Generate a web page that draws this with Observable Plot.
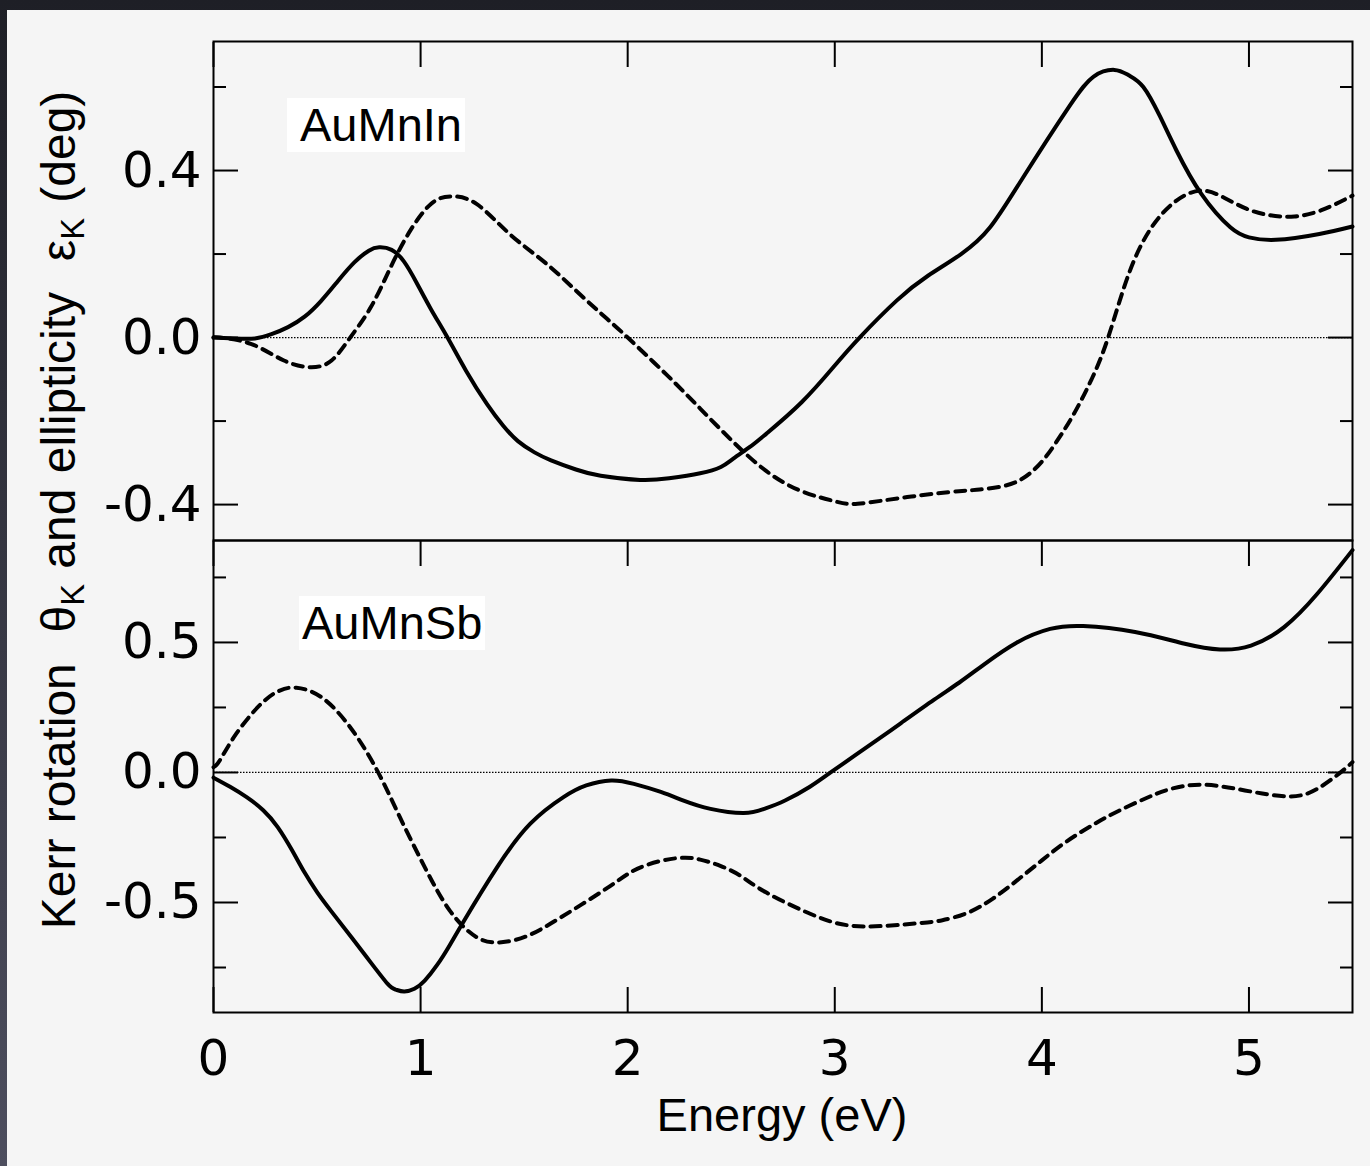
<!DOCTYPE html>
<html>
<head>
<meta charset="utf-8">
<script src="https://cdn.jsdelivr.net/npm/d3@7"></script>
<script src="https://cdn.jsdelivr.net/npm/@observablehq/plot@0.6"></script>
<style>
  html, body { margin: 0; padding: 0; }
  body { background: linear-gradient(#1e1f26, #4d4e5e); width: 1370px; height: 1166px; overflow: hidden; }
  #page { position: relative; width: 1370px; height: 1166px; }
  #bg { position: absolute; left: 7px; top: 10px; right: 0; bottom: 0; background: #f5f5f5; }
  .panel { position: absolute; left: 0; }
  .panel svg { display: block; }
  .tag { position: absolute; background: #ffffff; font: 47px "Liberation Sans", Arial, sans-serif; color: #000; height: 54px; line-height: 54px; white-space: nowrap; box-sizing: border-box; }
  .title { position: absolute; font: 47px "Liberation Sans", Arial, sans-serif; color: #000; white-space: nowrap; line-height: 47px; }
  .title sub { font-size: 0.68em; vertical-align: -0.28em; line-height: 0; }
</style>
</head>
<body>
<div id="page">
  <div id="bg"></div>
  <div class="panel" id="top" style="top:0px"></div>
  <div class="panel" id="bottom" style="top:530px"></div>
  <div class="tag" style="left:287px; top:98px; width:178px; padding-left:13px;">AuMnIn</div>
  <div class="tag" style="left:299px; top:596px; width:186px; padding-left:3px;">AuMnSb</div>
  <div class="title" id="xlabel" style="left:782px; top:1091px; transform:translateX(-50%);">Energy (eV)</div>
  <div class="title" id="ylabel" style="left:58px; top:510px; font-size:48px; word-spacing:2px; transform:translate(-50%,-50%) rotate(-90deg);">Kerr rotation&nbsp; θ<sub>K</sub> and ellipticity&nbsp; ε<sub>K</sub> (deg)</div>
</div>
<script>
// ---------- data ----------
// AuMnIn, Kerr rotation (solid)
const inRotE = [0.00,0.10,0.20,0.28,0.36,0.44,0.52,0.60,0.68,0.75,0.80,0.86,0.92,0.98,1.05,1.13,1.22,1.32,1.40,1.47,1.55,1.63,1.75,1.87,2.06,2.20,2.35,2.45,2.51,2.59,2.67,2.84,3.00,3.12,3.30,3.45,3.61,3.75,3.91,4.13,4.25,4.35,4.42,4.49,4.57,4.65,4.77,4.91,5.00,5.13,5.34,5.50];
const inRotV = [0.000,-0.002,-0.002,0.008,0.025,0.050,0.088,0.135,0.180,0.208,0.216,0.210,0.182,0.132,0.068,0.000,-0.080,-0.159,-0.212,-0.248,-0.275,-0.294,-0.316,-0.331,-0.341,-0.337,-0.325,-0.310,-0.290,-0.262,-0.230,-0.155,-0.067,0.000,0.089,0.148,0.200,0.264,0.384,0.552,0.625,0.641,0.628,0.600,0.530,0.448,0.344,0.264,0.240,0.234,0.248,0.266];
// AuMnIn, ellipticity (dashed)
const inEllE = [0.00,0.03,0.18,0.34,0.47,0.57,0.66,0.76,0.855,0.95,1.05,1.145,1.27,1.43,1.60,1.76,1.90,2.00,2.19,2.35,2.51,2.67,2.84,3.00,3.11,3.35,3.60,3.70,3.80,3.88,3.95,4.02,4.09,4.16,4.24,4.32,4.42,4.53,4.65,4.77,4.88,4.99,5.10,5.22,5.35,5.50];
const inEllV = [0.000,0.000,-0.015,-0.055,-0.071,-0.055,0.000,0.073,0.168,0.256,0.320,0.338,0.320,0.248,0.180,0.108,0.045,0.000,-0.090,-0.170,-0.250,-0.320,-0.368,-0.392,-0.398,-0.382,-0.368,-0.364,-0.357,-0.345,-0.322,-0.285,-0.235,-0.178,-0.100,0.000,0.153,0.264,0.328,0.352,0.335,0.308,0.293,0.290,0.305,0.340];
// AuMnSb, Kerr rotation (solid)
const sbRotE = [0.00,0.08,0.16,0.24,0.31,0.38,0.44,0.50,0.57,0.73,0.84,0.88,0.92,0.97,1.02,1.08,1.14,1.21,1.37,1.53,1.69,1.80,1.92,2.03,2.16,2.27,2.40,2.56,2.66,2.76,2.88,2.98,3.16,3.32,3.48,3.60,3.72,3.88,4.04,4.20,4.45,4.69,4.86,5.01,5.17,5.33,5.50];
const sbRotV = [-0.020,-0.055,-0.095,-0.145,-0.210,-0.300,-0.385,-0.460,-0.535,-0.700,-0.812,-0.835,-0.842,-0.832,-0.800,-0.740,-0.665,-0.570,-0.364,-0.197,-0.095,-0.050,-0.031,-0.044,-0.075,-0.108,-0.140,-0.156,-0.140,-0.108,-0.055,0.000,0.100,0.190,0.280,0.345,0.415,0.500,0.552,0.563,0.540,0.495,0.473,0.488,0.559,0.687,0.855];
// AuMnSb, ellipticity (dashed)
const sbEllE = [0.00,0.03,0.11,0.23,0.32,0.40,0.52,0.66,0.79,0.90,1.02,1.14,1.27,1.39,1.52,1.68,1.90,2.03,2.16,2.27,2.35,2.45,2.55,2.67,2.92,3.14,3.40,3.52,3.64,3.76,3.88,4.00,4.12,4.25,4.37,4.50,4.61,4.77,4.98,5.19,5.33,5.45,5.50];
const sbEllV = [0.020,0.046,0.149,0.264,0.315,0.326,0.290,0.174,0.008,-0.172,-0.364,-0.530,-0.633,-0.653,-0.627,-0.556,-0.445,-0.377,-0.340,-0.328,-0.335,-0.360,-0.400,-0.462,-0.556,-0.592,-0.580,-0.568,-0.540,-0.487,-0.415,-0.338,-0.265,-0.200,-0.148,-0.100,-0.066,-0.047,-0.069,-0.092,-0.063,0.005,0.040];

// ---------- axis ticks ----------
const xMajor = [0, 1, 2, 3, 4, 5];
const xLabels = [0, 1, 2, 3, 4, 5];
const topMajor = [-0.4, 0.0, 0.4];
const topMinor = [-0.2, 0.2, 0.6];
const botMajor = [-0.5, 0.0, 0.5];
const botMinor = [-0.75, -0.25, 0.25, 0.75];
const xDomain = [0, 5.5];
const topDomain = [-0.486, 0.709];
const botDomain = [-0.923, 0.892];

const table = (E, V) => E.map((e, i) => ({E: e, v: V[i]}));
const inRot = table(inRotE, inRotV);
const inEll = table(inEllE, inEllV);
const sbRot = table(sbRotE, sbRotV);
const sbEll = table(sbEllE, sbEllV);

const tickFont = "DejaVu Sans, sans-serif";
const common = {
  width: 1370,
  marginLeft: 213,
  marginRight: 18,
  x: {domain: xDomain, axis: null, label: null},
  style: {background: "transparent", color: "#000", fontFamily: tickFont, overflow: "visible"}
};
const lineOpts = {x: "E", y: "v", curve: "natural", stroke: "#000", strokeWidth: 4};
const dashOpts = {...lineOpts, strokeDasharray: "10,7"};

function yTicks(major, minor) {
  return [
    Plot.axisY(major, {anchor: "left", tickSize: -25, fill: "none", strokeWidth: 2, label: null}),
    Plot.axisY(minor, {anchor: "left", tickSize: -13, fill: "none", strokeWidth: 2, label: null}),
    Plot.axisY(major, {anchor: "right", tickSize: -25, fill: "none", strokeWidth: 2, label: null}),
    Plot.axisY(minor, {anchor: "right", tickSize: -13, fill: "none", strokeWidth: 2, label: null}),
    Plot.axisY(major, {anchor: "left", tickSize: 0, tickPadding: 12, fontSize: 50, tickFormat: d => d.toFixed(1), label: null})
  ];
}

const topPlot = Plot.plot({
  ...common,
  height: 545,
  marginTop: 41,
  marginBottom: 5,
  y: {domain: topDomain, axis: null, label: null},
  marks: [
    Plot.ruleY([0], {stroke: "#000", strokeWidth: 1.2, strokeDasharray: "1.5,1.5"}),
    Plot.line(inRot, lineOpts),
    Plot.line(inEll, dashOpts),
    Plot.axisX(xMajor, {anchor: "top", tickSize: -25, fill: "none", strokeWidth: 2, label: null}),
    ...yTicks(topMajor, topMinor),
    Plot.frame({stroke: "#000", strokeWidth: 2})
  ]
});

const botPlot = Plot.plot({
  ...common,
  height: 636,
  marginTop: 10,
  marginBottom: 154,
  y: {domain: botDomain, axis: null, label: null},
  marks: [
    Plot.ruleY([0], {stroke: "#000", strokeWidth: 1.2, strokeDasharray: "1.5,1.5"}),
    Plot.line(sbRot, lineOpts),
    Plot.line(sbEll, dashOpts),
    Plot.axisX(xMajor, {anchor: "top", tickSize: -25, fill: "none", strokeWidth: 2, label: null}),
    Plot.axisX(xMajor, {anchor: "bottom", tickSize: -25, fill: "none", strokeWidth: 2, label: null}),
    Plot.axisX(xLabels, {anchor: "bottom", tickSize: 0, tickPadding: 27, fontSize: 50, tickFormat: d => String(d), label: null}),
    ...yTicks(botMajor, botMinor),
    Plot.frame({stroke: "#000", strokeWidth: 2})
  ]
});

document.getElementById("top").appendChild(topPlot);
document.getElementById("bottom").appendChild(botPlot);
</script>
</body>
</html>
